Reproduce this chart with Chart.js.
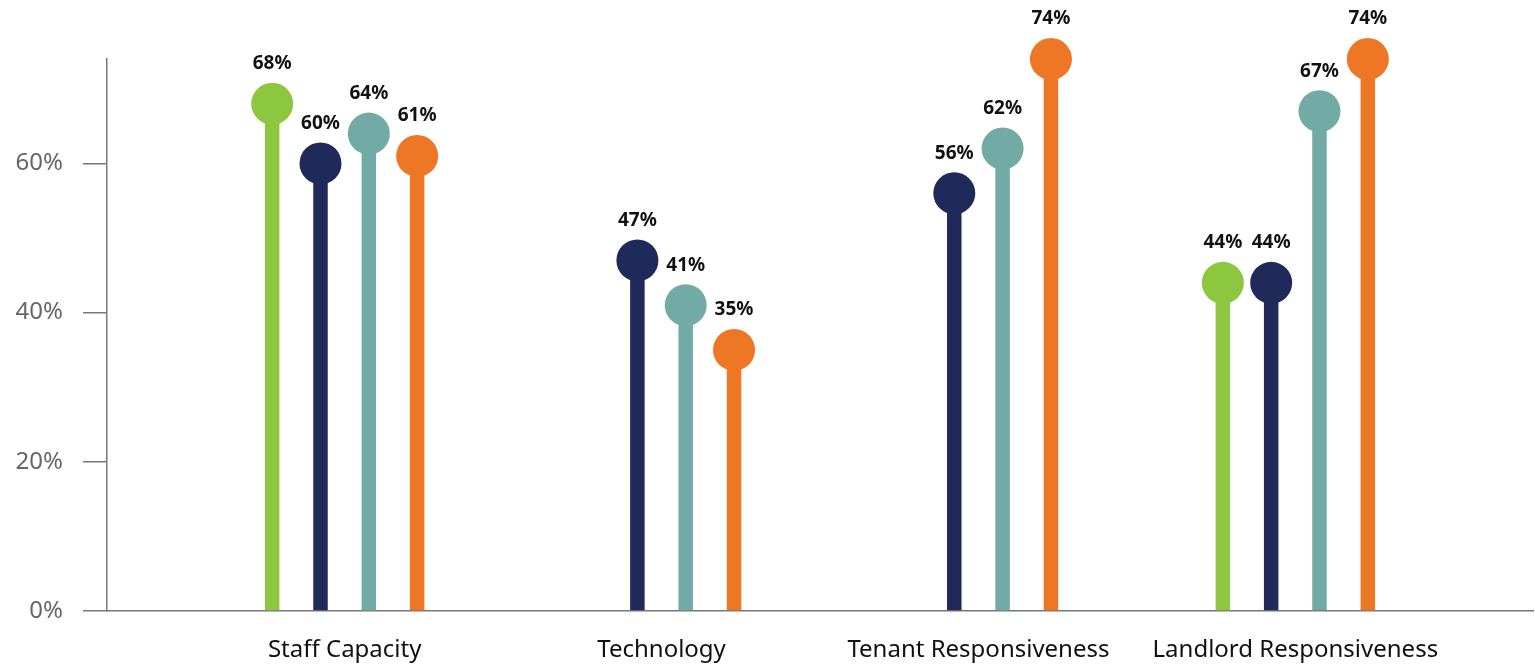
<!DOCTYPE html>
<html>
<head>
<meta charset="utf-8">
<script src="https://cdn.jsdelivr.net/npm/chart.js@4.4.0/dist/chart.umd.min.js"></script>
<style>
  html, body { margin: 0; padding: 0; background: #fff; }
  #wrap { width: 1535px; height: 664px; }
</style>
</head>
<body>
<div id="wrap"><canvas id="lollipop"></canvas></div>
<script>
var categories = ['Staff Capacity', 'Technology', 'Tenant Responsiveness', 'Landlord Responsiveness'];
var greenValues  = [68, null, null, 44];
var navyValues   = [60, 47, 56, 44];
var tealValues   = [64, 41, 62, 67];
var orangeValues = [61, 35, 74, 74];
var yTicks = [0, 20, 40, 60];

var colors = ['#8dc63f', '#1f2a5a', '#72aba6', '#ee7726'];
var series = [greenValues, navyValues, tealValues, orangeValues];

function toPoints(values) {
    return values.map(function (v, i) { return { x: i, y: v }; });
}

// round heads + value labels on top of each stem
var heads = {
    id: 'heads',
    afterDatasetsDraw: function (chart) {
        var ctx = chart.ctx;
        ctx.save();
        chart.data.datasets.forEach(function (ds, d) {
            var meta = chart.getDatasetMeta(d);
            meta.data.forEach(function (bar, i) {
                var v = ds.data[i].y;
                if (v === null) return;
                ctx.beginPath();
                ctx.arc(bar.x, bar.y, 21, 0, Math.PI * 2);
                ctx.fillStyle = ds.backgroundColor;
                ctx.fill();
                ctx.fillStyle = '#111';
                ctx.font = 'bold 19px "Noto Sans"';
                ctx.textAlign = 'center';
                ctx.textBaseline = 'middle';
                ctx.fillText(v + '%', bar.x, bar.y - 40);
            });
        });
        ctx.restore();
    }
};

var ctx = document.getElementById('lollipop').getContext('2d');
var chart = new Chart(ctx, {
    type: 'bar',
    data: {
        datasets: series.map(function (values, k) {
            return {
                label: 'Series ' + (k + 1),
                data: toPoints(values),
                backgroundColor: colors[k],
                categoryPercentage: 0.61,
                barPercentage: 0.3
            };
        })
    },
    plugins: [heads],
    options: {
        responsive: true,
        maintainAspectRatio: false,
        animation: false,
        layout: { padding: { top: 59, right: 2, left: 0, bottom: 0 } },
        plugins: {
            legend: { display: false },
            tooltip: { enabled: false }
        },
        scales: {
            x: {
                type: 'linear',
                min: -0.75,
                max: 3.75,
                offset: false,
                grid: { display: false, offset: false },
                border: { color: '#777', width: 1.5 },
                ticks: {
                    stepSize: 1,
                    includeBounds: false,
                    maxRotation: 0,
                    padding: 17,
                    color: '#111',
                    font: { family: 'Noto Sans', size: 24 },
                    callback: function (v) { return categories[v]; }
                },
                afterFit: function (scale) { scale.height = 53; }
            },
            y: {
                min: 0,
                max: 74,
                afterBuildTicks: function (scale) {
                    scale.ticks = yTicks.map(function (v) { return { value: v }; });
                },
                grid: {
                    drawOnChartArea: false,
                    tickLength: 24,
                    color: '#777',
                    lineWidth: 1.5
                },
                border: { color: '#777', width: 1.5 },
                ticks: {
                    padding: 20,
                    color: '#666',
                    font: { family: 'Noto Sans', size: 24 },
                    callback: function (v) { return v + '%'; }
                },
                afterFit: function (scale) { scale.width = 107; }
            }
        }
    }
});
</script>
</body>
</html>
